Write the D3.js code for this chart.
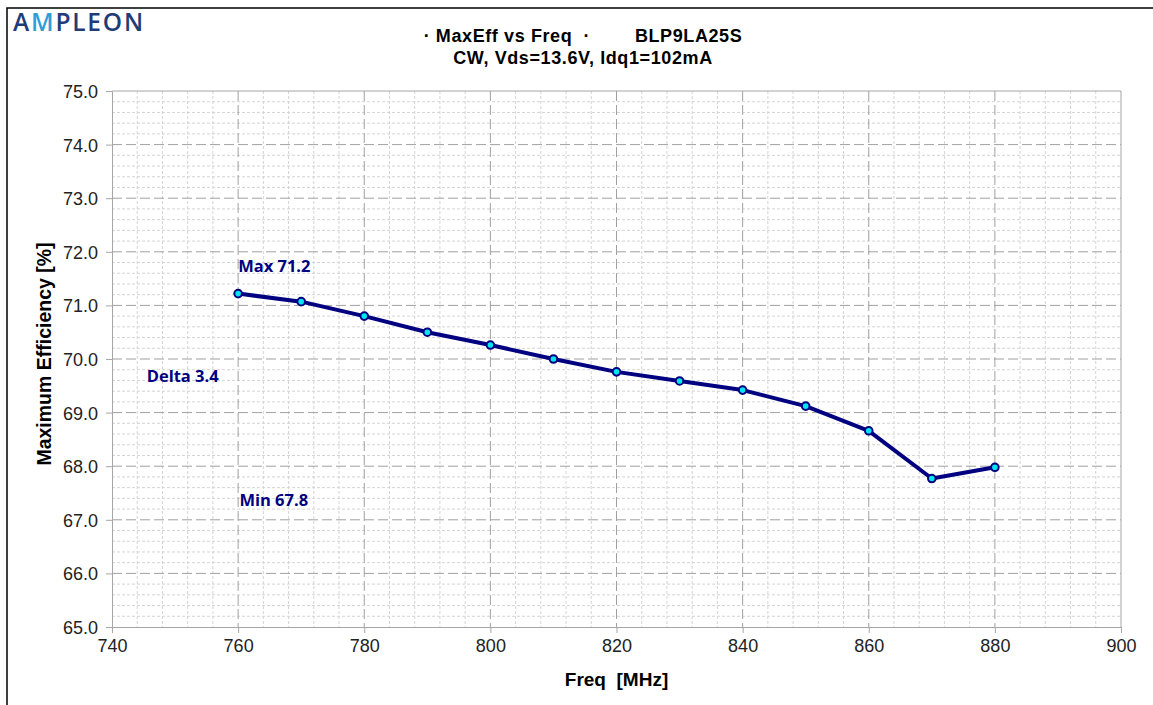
<!DOCTYPE html>
<html>
<head>
<meta charset="utf-8">
<script src="https://cdn.jsdelivr.net/npm/d3@7"></script>
<style>
  body { margin: 0; background: #fff; }
  svg { display: block; }
</style>
</head>
<body>
<div id="chart"></div>
<script>
// values
const freqs = [760, 770, 780, 790, 800, 810, 820, 830, 840, 850, 860, 870, 880];
const maxEff = [71.22, 71.07, 70.80, 70.50, 70.26, 70.00, 69.76, 69.59, 69.42, 69.12, 68.66, 67.77, 67.98];
const xTicks = [740, 760, 780, 800, 820, 840, 860, 880, 900];
const yTicks = [65, 66, 67, 68, 69, 70, 71, 72, 73, 74, 75];
const notes = [
    {text: "Max 71.2", f: 760, v: 71.62},
    {text: "Delta 3.4", f: 745.5, v: 69.58},
    {text: "Min 67.8", f: 760.2, v: 67.25}
];

const W = 1153, H = 705;
const margin = {top: 91, right: 32, bottom: 78, left: 112};
const width = 1121 - margin.left,
      height = 627 - margin.top;

const svg = d3.select("#chart")
    .append("svg")
    .attr("width", W)
    .attr("height", H);

// outer frame
svg.append("path")
    .attr("d", `M7,${H} V8 H${W}`)
    .attr("fill", "none")
    .attr("stroke", "#000")
    .attr("stroke-width", 1.5);

// logo
const logo = svg.append("text")
    .attr("x", 13)
    .attr("y", 31)
    .attr("font-family", "Open Sans, Arial, sans-serif")
    .attr("font-size", 24.5)
    .attr("font-weight", 600)
    .attr("letter-spacing", 1.8)
    .attr("fill", "#1f3c78");
logo.append("tspan").text("A");
logo.append("tspan").attr("fill", "#2a9fd8").text("M");
logo.append("tspan").text("PLEON");

// title
const titleFont = {family: "Liberation Sans, Arial, sans-serif", size: 18, spacing: 0.6};
svg.append("text")
    .attr("x", 583).attr("y", 42)
    .attr("text-anchor", "middle")
    .attr("font-family", titleFont.family)
    .attr("font-size", titleFont.size).attr("font-weight", "bold")
    .attr("letter-spacing", titleFont.spacing)
    .attr("xml:space", "preserve")
    .text("· MaxEff vs Freq  ·        BLP9LA25S");
svg.append("text")
    .attr("x", 583).attr("y", 64)
    .attr("text-anchor", "middle")
    .attr("font-family", titleFont.family)
    .attr("font-size", titleFont.size).attr("font-weight", "bold")
    .attr("letter-spacing", titleFont.spacing)
    .text("CW, Vds=13.6V, Idq1=102mA");

const g = svg.append("g")
    .attr("transform", `translate(${margin.left},${margin.top})`);

const x = d3.scaleLinear().domain([740, 900]).range([0, width]);
const y = d3.scaleLinear().domain([65, 75]).range([height, 0]);

// minor grid
g.append("g")
    .selectAll("line")
    .data(d3.range(744, 900, 4).filter(v => (v - 740) % 20 !== 0))
    .join("line")
    .attr("x1", d => x(d)).attr("x2", d => x(d))
    .attr("y1", 0).attr("y2", height)
    .attr("stroke", "#d4d4d4").attr("stroke-dasharray", "3,2");
g.append("g")
    .selectAll("line")
    .data(d3.range(0, 50).map(i => 65 + i * 0.2).filter((v, i) => i % 5 !== 0))
    .join("line")
    .attr("x1", 0).attr("x2", width)
    .attr("y1", d => y(d)).attr("y2", d => y(d))
    .attr("stroke", "#d4d4d4").attr("stroke-dasharray", "3,2");

// major grid
g.append("g")
    .selectAll("line")
    .data(xTicks.slice(1, -1))
    .join("line")
    .attr("x1", d => x(d)).attr("x2", d => x(d))
    .attr("y1", 0).attr("y2", height)
    .attr("stroke", "#a0a0a0").attr("stroke-dasharray", "10,4");
g.append("g")
    .selectAll("line")
    .data(yTicks.slice(1, -1))
    .join("line")
    .attr("x1", 0).attr("x2", width)
    .attr("y1", d => y(d)).attr("y2", d => y(d))
    .attr("stroke", "#a0a0a0").attr("stroke-dasharray", "10,4");

// plot border top/right
g.append("path")
    .attr("d", `M0,0 H${width} V${height}`)
    .attr("fill", "none")
    .attr("stroke", "#a6a6a6");

// axes
const xAxis = g.append("g")
    .attr("transform", `translate(0,${height})`)
    .call(d3.axisBottom(x).tickValues(xTicks).tickSize(6).tickPadding(6).tickSizeOuter(0));
const yAxis = g.append("g")
    .call(d3.axisLeft(y).tickValues(yTicks).tickSize(6).tickPadding(8)
        .tickFormat(d3.format(".1f")).tickSizeOuter(0));
[xAxis, yAxis].forEach(a => {
    a.select(".domain").attr("stroke", "#a6a6a6");
    a.selectAll(".tick line").attr("stroke", "#a6a6a6");
    a.selectAll(".tick text")
        .attr("fill", "#222")
        .attr("font-family", "Liberation Sans, Arial, sans-serif")
        .attr("font-size", 18);
});
yAxis.selectAll(".tick text").attr("dy", "0.36em");

// axis titles
svg.append("text")
    .attr("x", margin.left + width / 2).attr("y", 686)
    .attr("text-anchor", "middle")
    .attr("font-family", "Liberation Sans, Arial, sans-serif")
    .attr("font-size", 19).attr("font-weight", "bold")
    .attr("xml:space", "preserve")
    .text("Freq  [MHz]");
svg.append("text")
    .attr("transform", `translate(51,${margin.top + height / 2 - 5}) rotate(-90)`)
    .attr("text-anchor", "middle")
    .attr("font-family", "Liberation Sans, Arial, sans-serif")
    .attr("font-size", 19.5).attr("font-weight", "bold")
    .text("Maximum Efficiency [%]");

// series
const pts = freqs.map((f, i) => ({f: f, v: maxEff[i]}));
g.append("path")
    .datum(pts)
    .attr("fill", "none")
    .attr("stroke", "#000080")
    .attr("stroke-width", 4)
    .attr("stroke-linejoin", "round")
    .attr("d", d3.line().x(d => x(d.f)).y(d => y(d.v)));
g.append("g")
    .selectAll("circle")
    .data(pts)
    .join("circle")
    .attr("cx", d => x(d.f)).attr("cy", d => y(d.v))
    .attr("r", 3.8)
    .attr("fill", "#00e5f0")
    .attr("stroke", "#000080")
    .attr("stroke-width", 2);

// annotations
g.append("g")
    .selectAll("text")
    .data(notes)
    .join("text")
    .attr("x", d => x(d.f)).attr("y", d => y(d.v))
    .attr("font-family", "Open Sans, sans-serif")
    .attr("font-size", 16.5).attr("font-weight", "bold")
    .attr("fill", "#000080")
    .text(d => d.text);
</script>
</body>
</html>
